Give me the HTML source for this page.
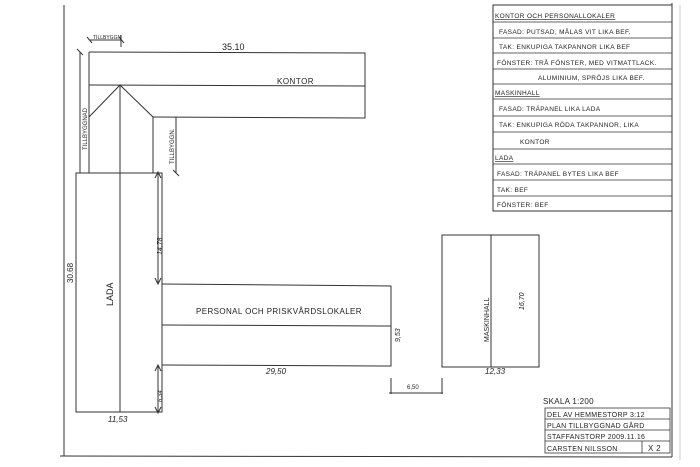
<!DOCTYPE html>
<html><head><meta charset="utf-8"><style>
html,body{margin:0;padding:0;background:#fff;width:700px;height:467px;overflow:hidden}
svg{display:block}
text{font-family:"Liberation Sans",sans-serif;fill:#222}
</style></head><body>
<svg width="700" height="467" viewBox="0 0 700 467" xmlns="http://www.w3.org/2000/svg">
<g stroke="#333" stroke-width="1" fill="none">
<line x1="64" y1="5" x2="64" y2="456"/>
<line x1="60" y1="456" x2="672" y2="457"/>
<line x1="672" y1="3" x2="672" y2="457"/>
<line x1="680" y1="5" x2="680" y2="460" stroke="#ccc"/>
<rect x="493" y="5" width="179" height="206"/>
<g stroke-width="0.8">
<line x1="493" y1="22" x2="672" y2="22"/>
<line x1="493" y1="38" x2="672" y2="38"/>
<line x1="493" y1="53" x2="672" y2="53"/>
<line x1="493" y1="69" x2="672" y2="69"/>
<line x1="493" y1="84" x2="672" y2="84"/>
<line x1="493" y1="99" x2="672" y2="99"/>
<line x1="493" y1="116" x2="672" y2="116"/>
<line x1="493" y1="132" x2="672" y2="132"/>
<line x1="493" y1="149" x2="672" y2="149"/>
<line x1="493" y1="164" x2="672" y2="164"/>
<line x1="493" y1="180" x2="672" y2="180"/>
<line x1="493" y1="196" x2="672" y2="196"/>
</g>
<polyline points="89,52 365,53 365,118 153,117"/>
<line x1="89" y1="85" x2="365" y2="86"/>
<polyline points="89,117 120,85 153,117 153,173"/>
<line x1="89" y1="52" x2="89" y2="173"/>
<rect x="76" y="173" width="86" height="239"/>
<line x1="120" y1="85" x2="120" y2="412"/>
<polyline points="162,284 391,286 391,366 162,365"/>
<line x1="162" y1="325" x2="391" y2="326"/>
<rect x="442" y="235" width="97" height="132"/>
<line x1="491" y1="235" x2="491" y2="367"/>
<line x1="89" y1="40" x2="122" y2="40"/>
<line x1="87" y1="37" x2="92" y2="43"/><line x1="119" y1="37" x2="124" y2="43"/>
<line x1="121" y1="35" x2="121" y2="47"/>
<line x1="80" y1="52" x2="80" y2="173"/>
<line x1="77" y1="49" x2="83" y2="55"/>
<line x1="176" y1="117" x2="176" y2="173"/>
<line x1="173" y1="170" x2="179" y2="176"/>
<line x1="158" y1="173" x2="158" y2="283"/>
<polyline points="155,278 158,284 161,278"/><polyline points="155,178 158,172 161,178"/>
<line x1="158" y1="366" x2="158" y2="412"/>
<polyline points="155,371 158,365 161,371"/><polyline points="155,407 158,413 161,407"/>
<line x1="391" y1="378" x2="391" y2="394"/>
<line x1="442" y1="378" x2="442" y2="394"/>
<line x1="389" y1="393" x2="443" y2="393"/>
</g>
<g font-size="8">
<text x="222" y="50" font-size="9">35.10</text>
<text x="277" y="84" letter-spacing="0.5">KONTOR</text>
<text x="196" y="314" letter-spacing="0.4">PERSONAL  OCH  PRISKVÅRDSLOKALER</text>
<text x="266" y="374" font-style="italic">29,50</text>
<text x="108" y="422" font-style="italic">11,53</text>
<text x="485" y="374" font-style="italic">12,33</text>
<text x="407" y="389" font-size="6">6,50</text>
<text x="93" y="39" font-size="5">TILLBYGGN</text>
<text transform="translate(87,150) rotate(-90)" font-size="6">TILLBYGGNAD</text>
<text transform="translate(174,164) rotate(-90)" font-size="6">TILLBYGGN.</text>
<text transform="translate(73,283) rotate(-90)">30.68</text>
<text transform="translate(113,306) rotate(-90)" font-size="9">LADA</text>
<text transform="translate(162,255) rotate(-90)" font-size="7" font-style="italic">14,78</text>
<text transform="translate(162,402) rotate(-90)" font-size="6" font-style="italic">6,34</text>
<text transform="translate(400,342) rotate(-90)" font-size="7" font-style="italic">9,53</text>
<text transform="translate(489,342) rotate(-90)" font-size="7">MASKINHALL</text>
<text transform="translate(524,310) rotate(-90)" font-size="7" font-style="italic">16,70</text>
</g>
<g font-size="6.5" letter-spacing="0.35">
<text x="495" y="18" text-decoration="underline">KONTOR OCH PERSONALLOKALER</text>
<text x="499" y="34">FASAD: PUTSAD, MÅLAS VIT LIKA BEF.</text>
<text x="499" y="49">TAK:   ENKUPIGA TAKPANNOR LIKA BEF</text>
<text x="497" y="65">FÖNSTER: TRÅ FÖNSTER, MED VITMATTLACK.</text>
<text x="538" y="80">ALUMINIUM, SPRÖJS LIKA BEF.</text>
<text x="495" y="95" text-decoration="underline">MASKINHALL</text>
<text x="499" y="111">FASAD: TRÄPANEL  LIKA  LADA</text>
<text x="499" y="127">TAK: ENKUPIGA RÖDA TAKPANNOR, LIKA</text>
<text x="520" y="144">KONTOR</text>
<text x="495" y="160" text-decoration="underline">LADA</text>
<text x="497" y="176">FASAD: TRÄPANEL  BYTES  LIKA BEF</text>
<text x="497" y="192">TAK: BEF</text>
<text x="497" y="207">FÖNSTER: BEF</text>
</g>
<g stroke="#333" stroke-width="0.8" fill="none">
<rect x="545" y="408" width="125" height="45"/>
<line x1="545" y1="419" x2="670" y2="419"/>
<line x1="545" y1="430" x2="670" y2="430"/>
<line x1="545" y1="441" x2="670" y2="441"/>
<line x1="642" y1="441" x2="642" y2="453"/>
</g>
<g font-size="7" letter-spacing="0.3">
<text x="543" y="404" font-size="8">SKALA  1:200</text>
<text x="547" y="417">DEL AV  HEMMESTORP   3:12</text>
<text x="547" y="428">PLAN TILLBYGGNAD GÅRD</text>
<text x="547" y="439">STAFFANSTORP  2009.11.16</text>
<text x="547" y="451">CARSTEN NILSSON</text>
<text x="648" y="451" font-size="8">X 2</text>
</g>
</svg>
</body></html>
